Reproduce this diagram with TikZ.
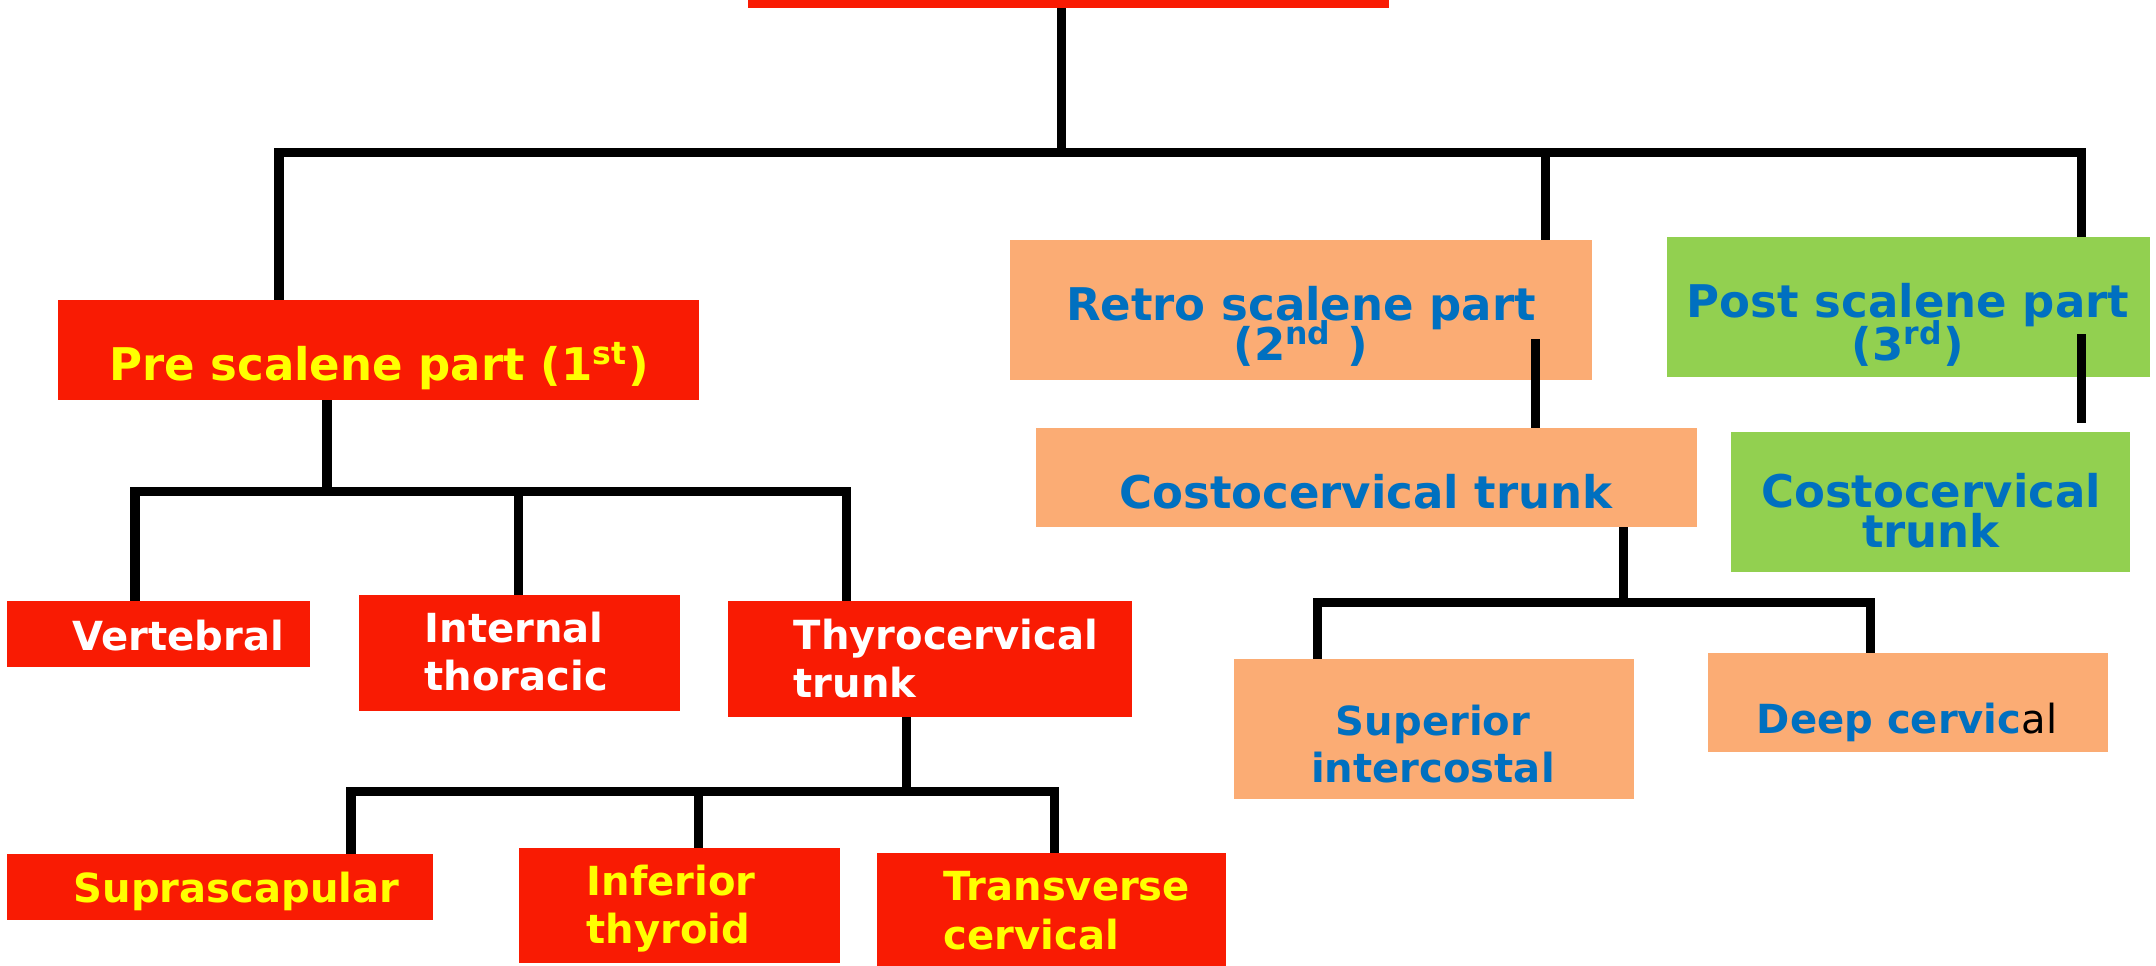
\documentclass[tikz,border=0pt]{standalone}
\usepackage{fontspec}
\setmainfont{DejaVu Sans}
\definecolor{boxred}{HTML}{F91B03}
\definecolor{salmon}{HTML}{FBAC74}
\definecolor{lgreen}{HTML}{92D050}
\definecolor{tblue}{HTML}{0070C0}
\definecolor{tyellow}{HTML}{FFFF00}
\lineskiplimit=-100cm
\begin{document}
\begin{tikzpicture}[x=0.01cm,y=-0.01cm,
  conn/.style={line width=0.09cm, draw=black, line join=miter},
  box/.style={rectangle, draw=none, inner sep=0pt, outer sep=0pt},
  redbox/.style={box, fill=boxred},
  orbox/.style={box, fill=salmon},
  grbox/.style={box, fill=lgreen},
  big/.style={font=\fontsize{12.8pt}{#1}\selectfont\bfseries, inner sep=0pt},
  big/.default=14pt,
  small/.style={font=\fontsize{11.4pt}{#1}\selectfont\bfseries, inner sep=0pt},
  small/.default=13pt,
  yel/.style={text=tyellow},
  wht/.style={text=white},
  blu/.style={text=tblue}]
\useasboundingbox (0,0) rectangle (2156,966);

% boxes
\node[redbox, minimum width=6.41cm, minimum height=0.08cm] (top) at (1068.5,4) {};
\node[redbox, minimum width=6.41cm, minimum height=1.00cm] (pre) at (378.5,350) {};
\node[orbox, minimum width=5.82cm, minimum height=1.40cm] (retro) at (1301,310) {};
\node[grbox, minimum width=4.83cm, minimum height=1.40cm] (post) at (1908.5,307) {};
\node[orbox, minimum width=6.61cm, minimum height=0.99cm] (costoO) at (1366.5,477.5) {};
\node[grbox, minimum width=3.99cm, minimum height=1.40cm] (costoG) at (1930.5,502) {};
\node[redbox, minimum width=3.03cm, minimum height=0.66cm] (vert) at (158.5,634) {};
\node[redbox, minimum width=3.21cm, minimum height=1.16cm] (intth) at (519.5,653) {};
\node[redbox, minimum width=4.04cm, minimum height=1.16cm] (thyro) at (930,659) {};
\node[redbox, minimum width=4.26cm, minimum height=0.66cm] (supra) at (220,887) {};
\node[redbox, minimum width=3.21cm, minimum height=1.15cm] (inf) at (679.5,905.5) {};
\node[redbox, minimum width=3.49cm, minimum height=1.13cm] (trans) at (1051.5,909.5) {};
\node[orbox, minimum width=4.00cm, minimum height=1.40cm] (supint) at (1434,729) {};
\node[orbox, minimum width=4.00cm, minimum height=0.99cm] (deep) at (1908,702.5) {};

% texts (anchor base = baseline of the last line)
\node[big, yel, anchor=base] (preT) at (379,380) {Pre scalene part (1\textsuperscript{st})};
\node[big=11.1pt, blu, align=center, anchor=base] (retroT) at (1301,360) {Retro scalene part\\(2\textsuperscript{nd} )};
\node[big=11.95pt, blu, align=center, anchor=base] (postT) at (1908,360) {Post scalene part\\(3\textsuperscript{rd})};
\node[big, blu, anchor=base] (costoOT) at (1366,508) {Costocervical trunk};
\node[big=11.1pt, blu, align=center, anchor=base] (costoGT) at (1931,547) {Costocervical\\trunk};
\node[small, wht, anchor=base west] (vertT) at (72,650) {Vertebral};
\node[small=13.37pt, wht, align=left, anchor=base west] (intthT) at (424,690) {Internal\\thoracic};
\node[small=13.37pt, wht, align=left, anchor=base west] (thyroT) at (793,697) {Thyrocervical\\trunk};
\node[small, yel, anchor=base west] (supraT) at (73,902) {Suprascapular};
\node[small=13.37pt, yel, align=left, anchor=base west] (infT) at (586,943) {Inferior\\thyroid};
\node[small=13.66pt, yel, align=left, anchor=base west] (transT) at (943,949) {Transverse\\cervical};
\node[small=13.09pt, blu, align=center, anchor=base] (supintT) at (1433,782) {Superior\\intercostal};
\node[small, anchor=base] (deepT) at (1907,733) {\textcolor{tblue}{Deep cervic}{\mdseries\color{black}al}};

% junction coordinates
\coordinate (j0) at (1061,152);
\coordinate (busL) at (279,152);
\coordinate (busM) at (1545,152);
\coordinate (busR) at (2081,152);
\coordinate (r1) at (1535,339);
\coordinate (p1) at (2081,334);
\coordinate (p2) at (2081,423);
\coordinate (q0) at (327,491);
\coordinate (qL) at (135,491);
\coordinate (qM) at (518,491);
\coordinate (qR) at (846,491);
\coordinate (t0) at (906,791);
\coordinate (tL) at (351,791);
\coordinate (tM) at (698,791);
\coordinate (tR) at (1054,791);
\coordinate (c0) at (1623,602);
\coordinate (cL) at (1317,602);
\coordinate (cR) at (1870,602);

% connectors
\draw[conn] (top.south -| j0) -- (j0);
\draw[conn] (busL |- pre.north) -- (busL) -- (busR) -- (busR |- post.north);
\draw[conn] (busM) -- (busM |- retro.north);
\draw[conn] (r1) -- (r1 |- costoO.north);
\draw[conn] (p1) -- (p2);

\draw[conn] (pre.south -| q0) -- (q0);
\draw[conn] (qL |- vert.north) -- (qL) -- (qR) -- (qR |- thyro.north);
\draw[conn] (qM) -- (qM |- intth.north);

\draw[conn] (thyro.south -| t0) -- (t0);
\draw[conn] (tL |- supra.north) -- (tL) -- (tR) -- (tR |- trans.north);
\draw[conn] (tM) -- (tM |- inf.north);

\draw[conn] (costoO.south -| c0) -- (c0);
\draw[conn] (cL |- supint.north) -- (cL) -- (cR) -- (cR |- deep.north);
\end{tikzpicture}
\end{document}
